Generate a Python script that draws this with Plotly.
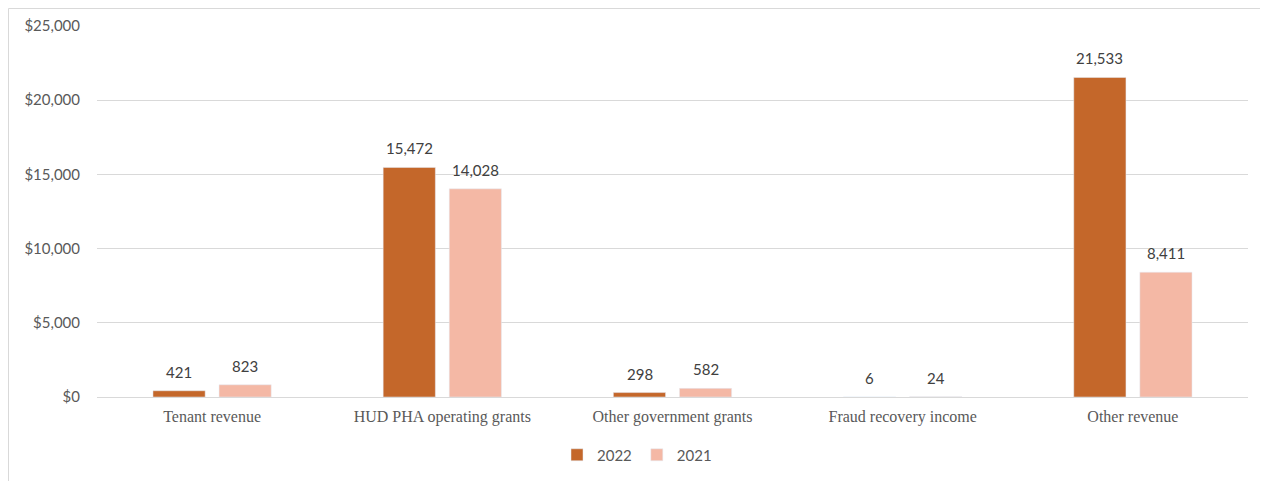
import plotly.graph_objects as go

categories = ["Tenant revenue", "HUD PHA operating grants", "Other government grants",
              "Fraud recovery income", "Other revenue"]
values_2022 = [421, 15472, 298, 6, 21533]
values_2021 = [823, 14028, 582, 24, 8411]
tick_vals = [0, 5000, 10000, 15000, 20000, 25000]
tick_text = ["$0", "$5,000", "$10,000", "$15,000", "$20,000", "$25,000"]

c2022 = "#C4672A"
c2021 = "#F4B8A5"
sans = "Lato, Open Sans, sans-serif"
label_font = dict(family=sans, size=15, color="#404040")

fig = go.Figure()
fig.add_trace(go.Bar(name="2022", x=categories, y=values_2022, marker_color=c2022))
fig.add_trace(go.Bar(name="2021", x=categories, y=values_2021, marker_color=c2021))

W, H = 1268, 481
OFF = 8  # page body margin offset
ml, mr, mt, mb = 97 - OFF, 20 + OFF, 26 - OFF, 84 + OFF
pw = W - ml - mr
ph = H - mt - mb

def px_x(p):
    return (p - ml) / pw

def px_y(p):
    return (H - mb - p) / ph

annotations = []
for vals, shift in ((values_2022, -33), (values_2021, 33)):
    for c, v in zip(categories, vals):
        annotations.append(dict(x=c, y=v, xref="x", yref="y", text=f"{v:,}", showarrow=False,
                                xshift=shift, yshift=8, yanchor="bottom", font=label_font))

fig.update_layout(
    width=W, height=H,
    margin=dict(l=ml, r=mr, t=mt, b=mb, autoexpand=False),
    paper_bgcolor="white", plot_bgcolor="white",
    barmode="group", bargap=0.426, bargroupgap=0.21,
    showlegend=True,
    legend=dict(orientation="h", x=px_x(637 - OFF), xanchor="center",
                y=1 - (455 - OFF) / H, yanchor="middle", yref="container",
                font=dict(family=sans, size=15, color="#595959"),
                itemwidth=30, traceorder="normal"),
    xaxis=dict(showgrid=False, showline=False, ticks="", zeroline=False, automargin=False,
               ticklabelstandoff=8,
               tickfont=dict(family="Liberation Serif, Times New Roman, serif", size=16, color="#595959")),
    yaxis=dict(range=[0, 25000], tickvals=tick_vals, ticktext=tick_text, automargin=False,
               showgrid=True, gridcolor="#D9D9D9", gridwidth=1,
               zeroline=True, zerolinecolor="#D9D9D9", zerolinewidth=1,
               showline=False, ticks="", ticklabelstandoff=16,
               tickfont=dict(family=sans, size=15, color="#595959")),
    annotations=annotations,
    shapes=[
        dict(type="line", xref="paper", yref="paper", x0=px_x(0.5), x1=px_x(0.5),
             y0=px_y(0.5), y1=px_y(490), line=dict(color="#D9D9D9", width=1)),
        dict(type="line", xref="paper", yref="paper", x0=px_x(0.5), x1=px_x(1280),
             y0=px_y(0.5), y1=px_y(0.5), line=dict(color="#D9D9D9", width=1)),
    ],
)

fig.write_html("out.html")
